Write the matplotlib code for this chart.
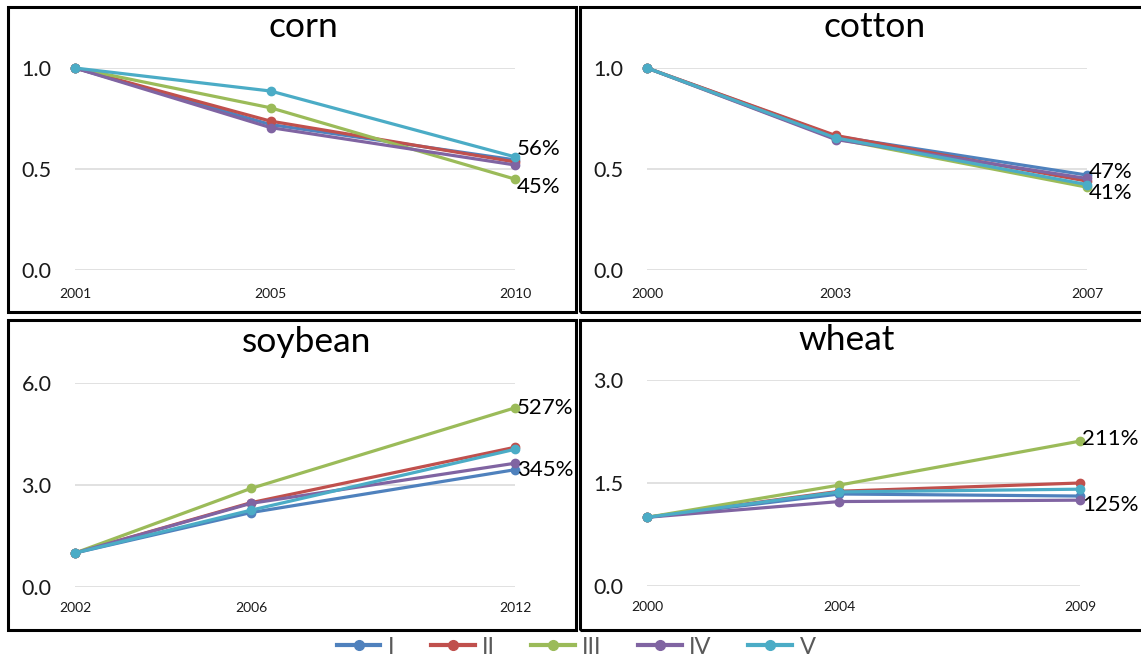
import numpy as np
import matplotlib
matplotlib.use('Agg')
import matplotlib.pyplot as plt
from matplotlib.lines import Line2D
from matplotlib.patches import Rectangle
from matplotlib.ticker import FormatStrFormatter

plt.rcParams['font.family'] = ['Lato', 'DejaVu Sans']

W, H = 1141, 659

series_names = ['I', 'II', 'III', 'IV', 'V']
series_colors = ['#4F81BD', '#C0504D', '#9BBB59', '#8064A2', '#4BACC6']

corn_years = [2001, 2005, 2010]
corn_vals = [
    [1.0, 0.72, 0.545],
    [1.0, 0.737, 0.535],
    [1.0, 0.803, 0.45],
    [1.0, 0.705, 0.52],
    [1.0, 0.886, 0.56],
]

cotton_years = [2000, 2003, 2007]
cotton_vals = [
    [1.0, 0.662, 0.47],
    [1.0, 0.666, 0.44],
    [1.0, 0.65, 0.41],
    [1.0, 0.646, 0.453],
    [1.0, 0.654, 0.423],
]

soybean_years = [2002, 2006, 2012]
soybean_vals = [
    [1.0, 2.19, 3.45],
    [1.0, 2.48, 4.11],
    [1.0, 2.90, 5.27],
    [1.0, 2.46, 3.64],
    [1.0, 2.26, 4.05],
]

wheat_years = [2000, 2004, 2009]
wheat_vals = [
    [1.0, 1.34, 1.31],
    [1.0, 1.38, 1.50],
    [1.0, 1.47, 2.11],
    [1.0, 1.23, 1.25],
    [1.0, 1.37, 1.41],
]

# (series index, vertical offset in px) for the end-of-line percent labels
corn_labels = [(4, 8), (2, -8)]
cotton_labels = [(0, 3), (2, -6)]
soybean_labels = [(2, 0), (0, 0)]
wheat_labels = [(2, 2), (3, -5)]

fig = plt.figure(figsize=(W / 100, H / 100), dpi=100)


def px_axes(left, top, right, bottom):
    return fig.add_axes([left / W, 1 - bottom / H, (right - left) / W, (bottom - top) / H])


def panel_box(left, top, right, bottom):
    fig.patches.append(Rectangle((left / W, 1 - bottom / H), (right - left) / W, (bottom - top) / H,
                                 transform=fig.transFigure, fill=False, edgecolor='black',
                                 linewidth=2.2, zorder=0))


def draw_panel(rect, years, vals, ymax, step, labels, title, title_xy, xpad):
    ax = px_axes(*rect)
    for vals_i, color, name in zip(vals, series_colors, series_names):
        ax.plot(years, vals_i, color=color, linewidth=2.3, marker='o', markersize=6,
                label=name, clip_on=False, zorder=3)
    for idx, dy in labels:
        v = vals[idx][-1]
        ax.annotate('%d%%' % round(v * 100), (years[-1], v), xytext=(1.5, dy * 0.72),
                    textcoords='offset points', ha='left', va='center', fontsize=16,
                    color='black', annotation_clip=False)
    ax.set_xlim(years[0], years[-1])
    ax.set_ylim(0, ymax)
    ax.set_xticks(years)
    ax.set_yticks(np.arange(0, ymax + step / 2, step))
    ax.yaxis.set_major_formatter(FormatStrFormatter('%.1f'))
    ax.grid(axis='y', color='#D9D9D9', linewidth=1.1)
    ax.set_axisbelow(True)
    for s in ax.spines.values():
        s.set_visible(False)
    ax.tick_params(axis='y', length=0, pad=17, labelsize=15.5, labelcolor='#1a1a1a')
    ax.tick_params(axis='x', length=0, pad=xpad, labelsize=10, labelcolor='#1a1a1a')
    fig.text(title_xy[0] / W, 1 - title_xy[1] / H, title, ha='center', va='center',
             fontsize=25.5, color='black')
    return ax


panel_box(8, 7, 576, 312)
panel_box(580, 7, 1160, 312)
panel_box(8, 320, 576, 630)
panel_box(580, 320, 1160, 630)

draw_panel((75, 68, 515, 270), corn_years, corn_vals, 1.0, 0.5, corn_labels,
           'corn', (303, 27), 13)
draw_panel((647, 68, 1087, 270), cotton_years, cotton_vals, 1.0, 0.5, cotton_labels,
           'cotton', (875, 27), 13)
draw_panel((75, 383, 515, 587), soybean_years, soybean_vals, 6.0, 3.0, soybean_labels,
           'soybean', (307, 342), 11)
draw_panel((647, 380, 1080, 586), wheat_years, wheat_vals, 3.0, 1.5, wheat_labels,
           'wheat', (847, 340), 11)

handles = [Line2D([], [], color=c, linewidth=3, marker='o', markersize=7) for c in series_colors]
fig.legend(handles, series_names, loc='center', bbox_to_anchor=(576 / W, 1 - 647 / H),
           ncol=5, frameon=False, fontsize=17, handlelength=1.86, handletextpad=0.3,
           columnspacing=1.55, labelcolor='#595959')

fig.savefig('out.png', dpi=100)
